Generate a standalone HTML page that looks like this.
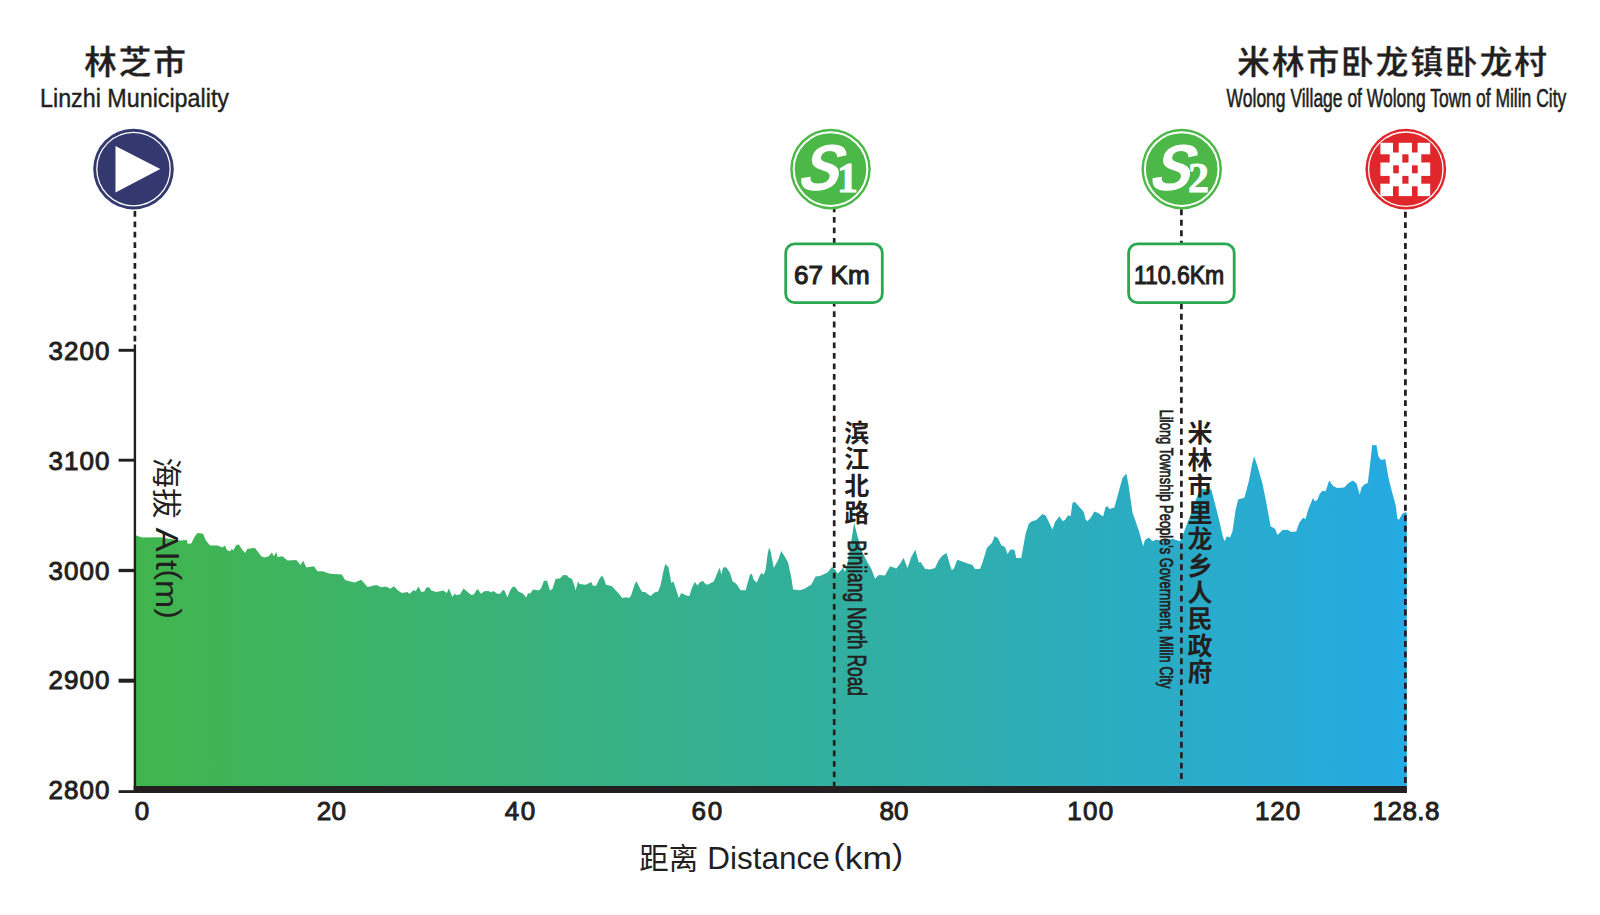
<!DOCTYPE html>
<html lang="zh">
<head>
<meta charset="utf-8">
<title>林芝市 - 米林市卧龙镇卧龙村</title>
<style>
html,body{margin:0;padding:0;background:#fff;}
body{width:1600px;height:915px;overflow:hidden;position:relative;}
svg{position:absolute;left:0;top:0;display:block;}
text{font-family:"Liberation Sans","Noto Sans CJK SC",sans-serif;fill:#231F20;}
.cjkb{font-weight:700;}
.vert{writing-mode:vertical-rl;text-orientation:upright;}
.num{font-size:26px;stroke:#231F20;stroke-width:0.95px;paint-order:stroke;}
.lat{font-size:25px;}
.serif{font-family:"Liberation Serif","Noto Serif CJK SC",serif;}
</style>
</head>
<body>
<svg width="1600" height="915" viewBox="0 0 1600 915">
<defs>
<linearGradient id="g" gradientUnits="userSpaceOnUse" x1="136" y1="0" x2="1406" y2="0">
<stop offset="0" stop-color="#41B54D"/>
<stop offset="1" stop-color="#25AAE2"/>
</linearGradient>
</defs>

<path d="M136,790 L136.0,535.6 142.5,537.5 160.0,537.3 180.0,540.6 186.9,540.0 187.5,543.8 191.3,543.5 194.4,536.9 197.5,533.1 203.1,533.8 205.6,540.0 210.0,545.6 217.5,545.6 222.5,547.5 225.0,545.6 226.9,550.0 230.0,551.3 231.9,548.8 233.1,550.6 236.3,545.0 238.8,544.4 242.5,550.0 245.0,553.1 247.5,548.8 255.0,548.1 261.3,556.3 264.4,557.5 268.8,556.3 271.9,552.5 273.8,556.3 276.3,551.9 277.5,556.9 282.5,556.3 287.5,560.6 296.3,560.0 300.6,565.0 303.1,560.6 306.3,567.5 313.8,566.3 317.5,571.3 322.5,571.3 330.0,573.8 341.9,574.4 345.0,580.0 354.4,582.5 361.3,579.8 367.5,586.9 376.3,585.0 381.3,587.3 385.6,586.5 390.6,588.8 393.8,586.3 398.1,590.6 401.9,592.9 407.5,591.9 409.4,594.0 413.8,590.0 415.6,591.3 418.5,586.5 421.3,591.9 424.4,591.5 426.3,587.5 429.4,587.5 431.3,590.6 436.3,591.9 443.1,590.6 446.9,593.1 448.8,588.5 452.5,596.9 454.4,593.8 456.3,595.0 460.0,594.4 463.5,588.5 471.3,595.0 473.8,594.4 476.9,589.4 478.5,589.8 480.6,593.8 485.0,591.0 489.4,591.3 491.3,592.5 493.1,591.0 497.5,593.8 500.0,593.8 503.1,589.8 505.0,591.3 507.3,597.5 510.6,589.4 513.1,586.5 515.6,587.5 518.1,591.3 523.1,593.8 526.3,597.5 528.1,593.1 530.0,593.8 533.1,589.4 538.8,590.6 541.3,588.1 543.8,581.0 546.9,580.6 550.0,590.6 552.5,588.8 555.6,578.8 560.0,578.5 563.1,575.0 566.9,575.3 569.4,578.1 571.9,578.8 574.4,585.6 575.6,590.6 578.1,581.0 579.4,584.0 585.6,584.8 591.3,581.9 593.1,586.0 596.3,585.6 599.4,578.8 602.1,575.4 604.4,580.0 606.0,584.8 611.9,586.3 618.8,593.8 622.3,598.1 626.3,597.3 629.4,598.1 631.3,595.0 634.4,585.0 636.3,581.0 640.6,589.4 642.5,591.9 645.0,591.9 650.6,596.0 654.4,592.5 658.1,591.6 660.6,585.0 663.1,572.5 665.3,564.0 668.5,567.3 671.3,583.1 673.5,581.5 676.3,590.0 678.8,598.1 681.3,593.1 686.3,595.4 689.4,596.0 691.9,588.1 694.8,582.1 697.5,585.6 700.0,582.1 703.1,580.9 705.0,583.5 707.5,584.8 713.8,581.5 717.5,572.5 719.8,567.5 721.3,574.8 723.1,567.5 726.3,567.3 730.0,573.1 732.5,581.3 736.3,583.8 740.6,590.3 745.6,590.3 750.0,574.4 751.9,574.1 753.8,580.0 756.9,582.5 760.0,575.0 761.9,572.8 763.5,575.0 765.6,570.0 767.5,555.0 769.0,547.5 770.6,551.3 773.8,568.1 778.1,560.0 781.3,551.0 785.0,556.9 788.1,562.5 791.3,577.5 793.1,589.4 800.0,590.3 805.0,588.5 811.3,584.4 815.6,576.5 820.0,576.0 827.5,572.5 831.9,566.9 835.6,570.0 837.5,573.8 841.3,570.0 843.1,567.5 845.0,571.9 848.1,560.0 851.9,537.5 854.1,522.5 857.5,536.3 862.5,552.5 867.5,562.5 871.3,568.8 875.0,578.8 878.8,575.0 885.0,575.6 890.0,566.3 896.3,568.5 900.6,563.1 903.5,557.8 907.5,568.1 911.3,556.9 915.3,549.8 918.8,562.5 920.6,561.9 925.0,568.8 930.0,569.4 935.0,568.1 938.8,560.0 942.5,555.6 946.6,553.1 950.0,565.0 951.9,570.3 953.8,568.8 957.3,559.8 966.3,563.1 972.5,565.0 975.0,569.0 980.0,569.0 982.5,562.5 986.9,548.1 991.9,543.1 994.8,536.0 998.1,538.5 1001.3,545.3 1005.0,546.9 1007.5,554.0 1010.6,549.4 1014.4,549.8 1016.3,558.1 1021.3,558.1 1023.1,547.5 1025.6,533.8 1028.8,523.8 1031.9,521.3 1036.3,520.0 1042.5,514.0 1045.6,515.6 1052.5,529.4 1055.0,521.9 1059.4,516.3 1062.5,521.0 1065.0,520.0 1068.1,515.3 1070.6,516.3 1072.5,502.8 1075.0,501.9 1079.4,506.9 1083.8,511.9 1085.6,519.4 1087.5,521.3 1090.6,518.1 1094.4,511.5 1098.1,513.1 1103.1,516.5 1105.6,506.9 1107.5,506.3 1109.4,509.0 1114.4,507.5 1118.8,491.3 1122.5,478.1 1126.3,473.5 1128.1,482.5 1130.0,495.0 1132.5,512.5 1135.6,521.3 1139.4,532.5 1143.1,546.3 1145.0,540.0 1148.8,537.5 1152.5,541.3 1156.3,539.4 1162.5,541.3 1172.5,538.8 1180.0,541.3 1183.8,532.5 1187.5,522.5 1192.5,510.0 1197.5,495.0 1201.3,488.8 1211.3,489.4 1215.0,503.8 1219.4,521.3 1222.5,535.0 1224.4,541.3 1226.9,536.3 1230.0,537.5 1232.5,531.3 1235.6,510.0 1238.1,499.4 1244.4,497.8 1248.8,481.3 1251.9,465.0 1254.1,456.3 1257.5,466.3 1262.5,483.8 1266.3,502.5 1268.8,516.3 1270.6,526.3 1275.0,528.8 1277.5,535.0 1282.5,530.0 1287.5,529.8 1291.3,531.9 1296.2,531.5 1299.3,522.8 1303.1,517.8 1305.6,519.0 1308.1,509.7 1313.0,497.9 1314.9,501.6 1317.4,499.7 1319.9,493.5 1323.0,490.4 1325.5,491.6 1329.2,480.4 1333.0,486.0 1337.3,487.9 1344.2,487.5 1348.5,482.9 1352.9,480.4 1356.6,483.5 1359.7,494.8 1361.6,487.3 1364.7,484.2 1367.8,482.9 1369.7,467.4 1372.2,444.9 1376.5,445.2 1378.4,456.2 1380.9,459.9 1385.3,458.9 1388.4,477.3 1392.1,492.3 1395.9,506.0 1397.3,518.4 1399.0,519.7 1402.1,514.1 1405.2,512.2 1406.8,512.8 L1406.8,790 Z" fill="url(#g)"/>
<rect x="133.7" y="786" width="1273.2" height="7" fill="#231F20"/>
<rect x="133.7" y="344.5" width="2.4" height="448" fill="#231F20"/>
<rect x="118.6" y="348.85" width="16" height="2.9" fill="#231F20"/>
<rect x="118.6" y="458.75" width="16" height="2.9" fill="#231F20"/>
<rect x="118.6" y="568.85" width="16" height="3.3" fill="#231F20"/>
<rect x="118.6" y="678.70" width="16" height="4.0" fill="#231F20"/>
<rect x="118.6" y="790.2" width="16" height="2.8" fill="#231F20"/>
<line x1="134.9" y1="211.0" x2="134.9" y2="345" stroke="#231F20" stroke-width="2.7" stroke-dasharray="5.8 4.60"/>
<line x1="834.2" y1="206.55" x2="834.2" y2="786" stroke="#231F20" stroke-width="2.7" stroke-dasharray="5.8 4.66"/>
<line x1="1181.4" y1="209.35" x2="1181.4" y2="779.8" stroke="#231F20" stroke-width="2.7" stroke-dasharray="5.9 4.54"/>
<line x1="1405.4" y1="211.7" x2="1405.4" y2="786" stroke="#231F20" stroke-width="2.8" stroke-dasharray="5.95 4.52"/>
<text class="num" x="48.4" y="359.85" textLength="61" lengthAdjust="spacing">3200</text>
<text class="num" x="48.4" y="469.85" textLength="61" lengthAdjust="spacing">3100</text>
<text class="num" x="48.4" y="579.65" textLength="61" lengthAdjust="spacing">3000</text>
<text class="num" x="48.4" y="689.35" textLength="61" lengthAdjust="spacing">2900</text>
<text class="num" x="48.4" y="799.35" textLength="61" lengthAdjust="spacing">2800</text>
<text class="num" x="134.8" y="820">0</text>
<text class="num" x="316.7" y="820" textLength="29.3" lengthAdjust="spacing">20</text>
<text class="num" x="504.7" y="820" textLength="30.5" lengthAdjust="spacing">40</text>
<text class="num" x="691.6" y="820" textLength="30.5" lengthAdjust="spacing">60</text>
<text class="num" x="879.6" y="820" textLength="28.8" lengthAdjust="spacing">80</text>
<text class="num" x="1067.3" y="820" textLength="46.0" lengthAdjust="spacing">100</text>
<text class="num" x="1255" y="820" textLength="45.2" lengthAdjust="spacing">120</text>
<text class="num" x="1372.5" y="820" textLength="67.0" lengthAdjust="spacing">128.8</text>
<text x="639.3" y="868.6" font-size="30" textLength="59" lengthAdjust="spacingAndGlyphs">距离</text>
<text x="707.3" y="868.6" font-size="30.5" textLength="122.5" lengthAdjust="spacingAndGlyphs">Distance</text>
<text x="833.6" y="868.6" font-size="30.5" textLength="69.5" lengthAdjust="spacingAndGlyphs"><tspan font-size="28.6" dy="-3.4">(</tspan><tspan dy="3.4">km</tspan><tspan font-size="28.6" dy="-3.4">)</tspan></text>
<g transform="translate(155.8,0) rotate(90)">
<text x="457.6" y="0" font-size="30" textLength="61" lengthAdjust="spacingAndGlyphs">海拔</text>
<text x="527.6" y="0" font-size="30.5" textLength="42.5" lengthAdjust="spacingAndGlyphs">Alt</text>
<text x="569.4" y="0" font-size="30.5" textLength="49.5" lengthAdjust="spacingAndGlyphs"><tspan font-size="28.6" dy="-3.8">(</tspan><tspan dy="3.8">m</tspan><tspan font-size="28.6" dy="-3.8">)</tspan></text>
</g>
<text class="cjkb" x="84" y="73.5" font-size="33" textLength="102" lengthAdjust="spacing" stroke="#fff" stroke-width="0.35">林芝市</text>
<text class="lat" x="40" y="107" textLength="189" lengthAdjust="spacingAndGlyphs" stroke="#231F20" stroke-width="0.4">Linzhi Municipality</text>
<text class="cjkb" x="1237" y="73.5" font-size="33" textLength="310" lengthAdjust="spacing" stroke="#fff" stroke-width="0.35">米林市卧龙镇卧龙村</text>
<text class="lat" x="1226.6" y="107" textLength="339.7" lengthAdjust="spacingAndGlyphs" stroke="#231F20" stroke-width="0.6">Wolong Village of Wolong Town of Milin City</text>
<circle cx="133.5" cy="169.1" r="40.3" fill="#33386F"/>
<circle cx="133.5" cy="169.1" r="36.7" fill="none" stroke="#fff" stroke-width="1.3"/>
<polygon points="115.5,146 115.5,192.5 160.3,168.9" fill="#fff"/>
<circle cx="830.5" cy="169.1" r="40.3" fill="#4CB848"/>
<circle cx="830.5" cy="169.1" r="36.8" fill="none" stroke="#fff" stroke-width="2"/>
<text transform="translate(797.7,189.5) skewX(-14) scale(0.95,1.02)" font-size="64" font-weight="700" font-style="italic" style="fill:#fff">S</text>
<text class="serif" x="837" y="191.9" font-size="42" font-weight="700" style="fill:#fff;stroke:#fff;stroke-width:0.8px">1</text>
<circle cx="1181.7" cy="169.1" r="40.3" fill="#4CB848"/>
<circle cx="1181.7" cy="169.1" r="36.8" fill="none" stroke="#fff" stroke-width="2"/>
<text transform="translate(1148.9,189.5) skewX(-14) scale(0.95,1.02)" font-size="64" font-weight="700" font-style="italic" style="fill:#fff">S</text>
<text class="serif" x="1188" y="191.9" font-size="42" font-weight="700" style="fill:#fff;stroke:#fff;stroke-width:0.8px">2</text>
<rect x="785.6999999999999" y="243.9" width="96.6" height="58.8" rx="9" ry="9" fill="#fff" stroke="#2AA850" stroke-width="2.8"/>
<text class="num" style="stroke-width:1.1px" x="794" y="284.3" textLength="75.7" lengthAdjust="spacing">67 Km</text>
<rect x="1128.6000000000001" y="243.9" width="105.6" height="58.8" rx="9" ry="9" fill="#fff" stroke="#2AA850" stroke-width="2.8"/>
<text class="num" style="stroke-width:1.1px" x="1133.9" y="284.3" textLength="90.3" lengthAdjust="spacingAndGlyphs">110.6Km</text>
<circle cx="1405.8" cy="169.2" r="40.4" fill="#DF272C"/>
<circle cx="1405.8" cy="169.2" r="37.2" fill="none" stroke="#fff" stroke-width="1.3"/>
<rect x="1380.4" y="142.8" width="49.8" height="53.3" fill="#fff"/>
<rect x="1393.0" y="142.0" width="5.7" height="10.5" fill="#DF272C"/>
<rect x="1412.0" y="142.0" width="5.6" height="10.5" fill="#DF272C"/>
<rect x="1393.0" y="186.3" width="5.7" height="10.7" fill="#DF272C"/>
<rect x="1412.0" y="186.3" width="5.6" height="10.7" fill="#DF272C"/>
<rect x="1379.5" y="154.3" width="10.2" height="8.2" fill="#DF272C"/>
<rect x="1379.5" y="175.9" width="10.2" height="7.8" fill="#DF272C"/>
<rect x="1421.3" y="154.3" width="9.7" height="8.2" fill="#DF272C"/>
<rect x="1421.3" y="175.9" width="9.7" height="7.8" fill="#DF272C"/>
<rect x="1402.3" y="154.3" width="6.2" height="8.3" fill="#DF272C"/>
<rect x="1402.3" y="175.9" width="6.2" height="7.8" fill="#DF272C"/>
<rect x="1393.2" y="165.3" width="5.6" height="8.0" fill="#DF272C"/>
<rect x="1412.0" y="165.3" width="5.7" height="8.0" fill="#DF272C"/>
<text class="cjkb vert" x="854.8" y="419.6" font-size="25" letter-spacing="1.8">滨江北路</text>
<text transform="translate(847.6,540.2) rotate(90)" font-size="26" textLength="155.8" lengthAdjust="spacingAndGlyphs" stroke="#231F20" stroke-width="0.8">Binjiang North Road</text>
<text class="cjkb vert" x="1197.9" y="420.1" font-size="25" letter-spacing="1.6">米林市里龙乡人民政府</text>
<text transform="translate(1160.3,409.8) rotate(90)" font-size="18" textLength="278.7" lengthAdjust="spacingAndGlyphs" stroke="#231F20" stroke-width="0.75">Lilong Township People's Government, Milin City</text>
</svg>
</body>
</html>
